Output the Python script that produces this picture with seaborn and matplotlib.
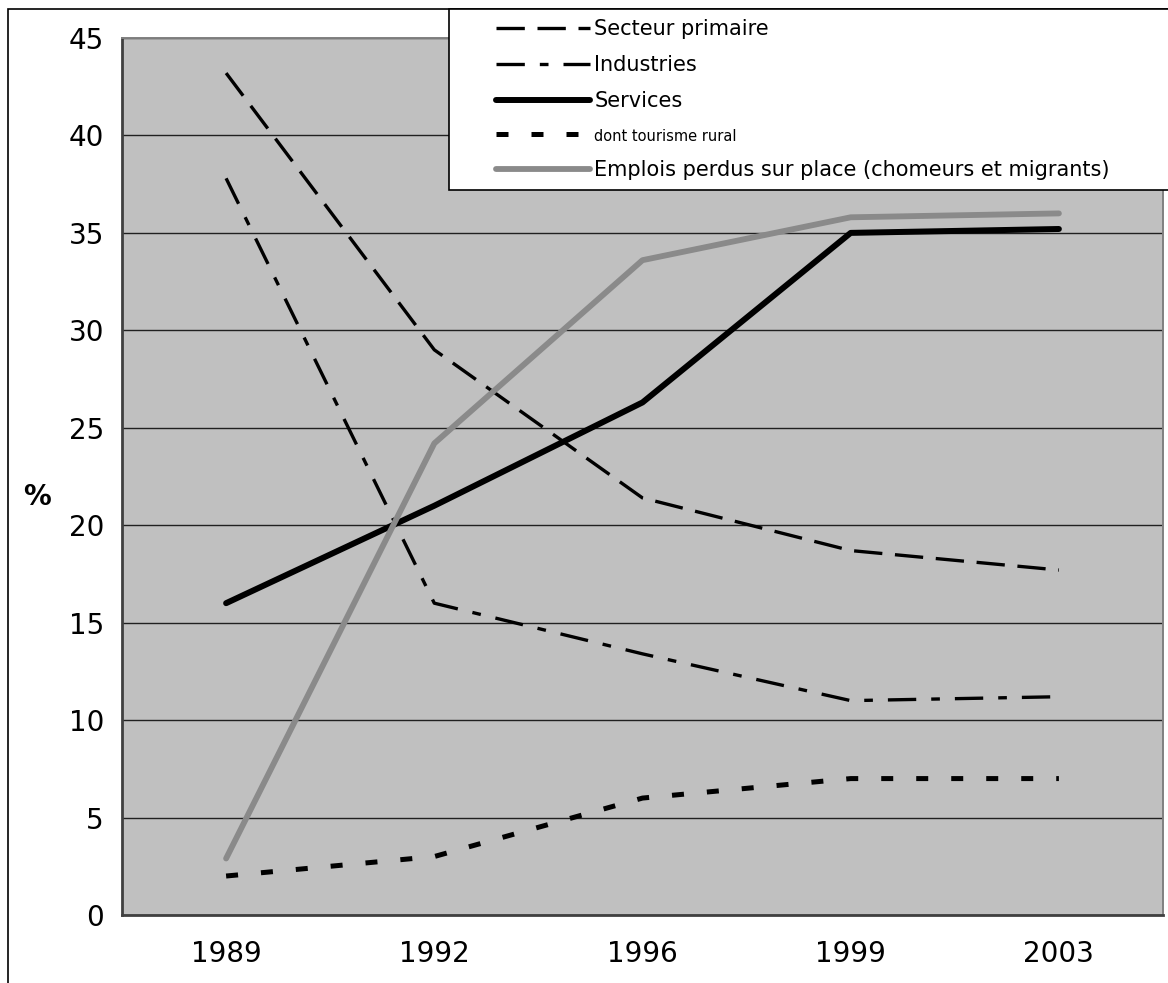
import numpy as np
import pandas as pd
import matplotlib
matplotlib.use("Agg")
import matplotlib.pyplot as plt
from matplotlib.patches import Rectangle
import seaborn as sns

years = ["1989", "1992", "1996", "1999", "2003"]
primaire = [43.2, 29.0, 21.4, 18.7, 17.7]
industries = [37.8, 16.0, 13.4, 11.0, 11.2]
services = [16.0, 21.0, 26.3, 35.0, 35.2]
tourisme = [2.0, 3.0, 6.0, 7.0, 7.0]
emplois = [2.9, 24.2, 33.6, 35.8, 36.0]

sns.set_style("white")
plt.rcParams["font.family"] = ["DejaVu Sans"]
plt.rcParams["text.color"] = "black"
plt.rcParams["xtick.color"] = "black"
plt.rcParams["ytick.color"] = "black"
plt.rcParams["axes.labelcolor"] = "black"

W, H = 1168, 983
fig = plt.figure(figsize=(W / 100, H / 100), dpi=100)
ax = fig.add_axes([122 / W, 1 - 915 / H, (1163 - 122) / W, (915 - 38) / H])
ax.set_facecolor("#c0c0c0")

x = np.arange(len(years))
df = pd.DataFrame({"x": x, "primaire": primaire, "industries": industries,
                   "services": services, "tourisme": tourisme, "emplois": emplois})

sns.lineplot(data=df, x="x", y="primaire", ax=ax, color="black", lw=2.4,
             label="Secteur primaire").lines[-1].set_dashes((8.5, 3.8))
sns.lineplot(data=df, x="x", y="industries", ax=ax, color="black", lw=2.4,
             label="Industries").lines[-1].set_dashes((8.5, 4.5, 2.6, 4.5))
l = sns.lineplot(data=df, x="x", y="services", ax=ax, color="black", lw=4.3,
                 label="Services").lines[-1]
l.set_solid_capstyle("round")
sns.lineplot(data=df, x="x", y="tourisme", ax=ax, color="black", lw=3.6,
             label="dont tourisme rural").lines[-1].set_dashes((2.4, 4.6))
sns.lineplot(data=df, x="x", y="emplois", ax=ax, color="#8a8a8a", lw=4.2,
             label="Emplois perdus sur place (chomeurs et migrants)")
for ln in ax.lines:
    ln.set_dash_capstyle("butt")

ax.set_xlim(-0.5, len(years) - 0.5)
ax.set_ylim(0, 45)
ax.set_yticks(range(0, 46, 5))
ax.yaxis.grid(True, color="#202020", lw=1.0)
ax.set_axisbelow(True)
ax.set_xticks(x)
ax.set_xticklabels(years)
ax.set_xticks(np.arange(-0.5, len(years), 1), minor=True)
ax.tick_params(axis="x", which="major", length=0, labelsize=20, pad=18)
ax.tick_params(axis="x", which="minor", direction="in", length=8, width=1.2, color="#303030")
ax.tick_params(axis="y", length=7, width=1.2, color="#404040", labelsize=20, pad=6)
ax.set_xlabel("")
ax.set_ylabel("%", rotation=0, fontsize=20, fontweight="bold", va="center", ha="center")
ax.yaxis.set_label_coords((37 - 122) / (1163 - 122), (915 - 497) / (915 - 38))

for side in ["left", "bottom"]:
    ax.spines[side].set_color("#404040")
    ax.spines[side].set_linewidth(2)
for side in ["top", "right"]:
    ax.spines[side].set_color("#808080")
    ax.spines[side].set_linewidth(1.4)

# outer border
fig.patches.append(Rectangle((8 / W, -0.1), 1.2, 1 - 9 / H + 0.1, transform=fig.transFigure,
                             fill=False, ec="black", lw=1.2))

# legend box
fig.patches.append(Rectangle((449 / W, 1 - 190 / H), 1.0, (190 - 9) / H,
                             transform=fig.transFigure, fc="white", ec="black", lw=1.2, zorder=5))
handles, labels = ax.get_legend_handles_labels()
ax.get_legend().remove()
leg = fig.legend(handles, labels, loc="upper left", bbox_to_anchor=(488 / W, 1 - 11 / H),
                 frameon=False, fontsize=15, handlelength=4.5, handletextpad=0.2,
                 labelspacing=0.76, borderaxespad=0)
leg.set_zorder(6)
leg.get_texts()[3].set_fontsize(10.5)

fig.savefig("out.png", dpi=100)
